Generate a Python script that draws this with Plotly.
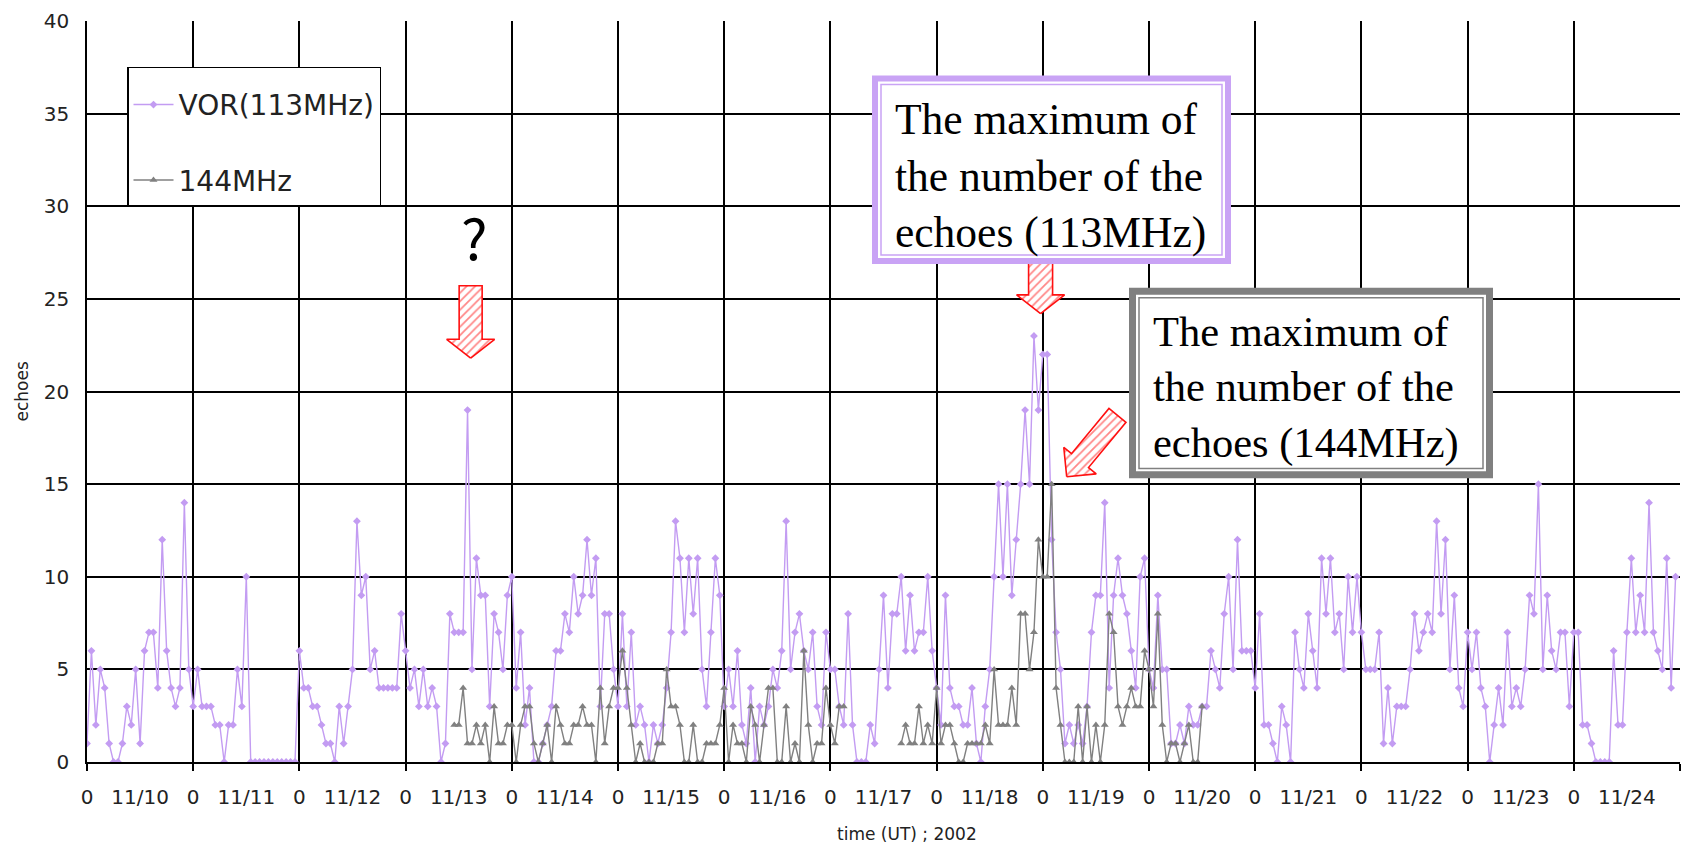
import math
import plotly.graph_objects as go

# ---------------- data ----------------
DAYS = ["11/10", "11/11", "11/12", "11/13", "11/14", "11/15", "11/16", "11/17",
        "11/18", "11/19", "11/20", "11/21", "11/22", "11/23", "11/24"]

# VOR (113 MHz) hourly echo counts, one list per day (hours 0..23 UT)
vor_1110 = [1, 6, 2, 5, 4, 1, 0, 0, 1, 3, 2, 5, 1, 6, 7, 7, 4, 12, 6, 4, 3, 4, 14, 5]
vor_1111 = [3, 5, 3, 3, 3, 2, 2, 0, 2, 2, 5, 3, 10, 0, 0, 0, 0, 0, 0, 0, 0, 0, 0, 0]
vor_1112 = [6, 4, 4, 3, 3, 2, 1, 1, 0, 3, 1, 3, 5, 13, 9, 10, 5, 6, 4, 4, 4, 4, 4, 8]
vor_1113 = [6, 4, 5, 3, 5, 3, 4, 3, 0, 1, 8, 7, 7, 7, 19, 5, 11, 9, 9, 3, 8, 7, 5, 9]
vor_1114 = [10, 4, 7, 2, 4, 0, 0, 1, 2, 3, 6, 6, 8, 7, 10, 8, 9, 12, 9, 11, 3, 8, 8, 5]
vor_1115 = [3, 8, 3, 7, 2, 3, 2, 0, 2, 1, 2, 4, 7, 13, 11, 7, 11, 8, 11, 5, 3, 7, 11, 9]
vor_1116 = [3, 5, 3, 6, 2, 1, 4, 0, 3, 2, 3, 5, 4, 6, 13, 5, 7, 8, 6, 5, 7, 3, 2, 7]
vor_1117 = [5, 5, 3, 2, 8, 2, 0, 0, 0, 2, 1, 5, 9, 4, 8, 8, 10, 6, 9, 6, 7, 7, 10, 6]
vor_1118 = [4, 2, 9, 4, 3, 3, 2, 2, 4, 1, 0, 3, 5, 10, 15, 10, 15, 9, 12, 15, 19, 15, 23, 19]
vor_1119 = [22, 22, 12, 7, 5, 1, 2, 1, 2, 1, 3, 7, 9, 9, 14, 4, 9, 11, 9, 8, 6, 4, 10, 11]
vor_1120 = [5, 4, 9, 5, 5, 1, 1, 2, 1, 3, 2, 2, 3, 3, 6, 5, 4, 8, 10, 5, 12, 6, 6, 6]
vor_1121 = [4, 8, 2, 2, 1, 0, 3, 2, 0, 7, 5, 4, 8, 6, 4, 11, 8, 11, 7, 8, 5, 10, 7, 10]
vor_1122 = [7, 5, 5, 5, 7, 1, 4, 1, 3, 3, 3, 5, 8, 6, 7, 8, 7, 13, 8, 12, 5, 9, 4, 3]
vor_1123 = [7, 5, 7, 4, 3, 0, 2, 4, 2, 7, 3, 4, 3, 5, 9, 8, 15, 5, 9, 6, 5, 7, 7, 3]
vor_1124 = [7, 7, 2, 2, 1, 0, 0, 0, 0, 6, 2, 2, 7, 11, 7, 9, 7, 14, 7, 6, 5, 11, 4, 10]

# 144 MHz hourly echo counts (None = no observation)
N = None
m144_1110 = [N, N, N, N, N, N, N, N, N, N, N, N, N, N, N, N, N, N, N, N, N, N, N, N]
m144_1111 = [N, N, N, N, N, N, N, N, N, N, N, N, N, N, N, N, N, N, N, N, N, N, N, N]
m144_1112 = [N, N, N, N, N, N, N, N, N, N, N, N, N, N, N, N, N, N, N, N, N, N, N, N]
m144_1113 = [N, N, N, N, N, N, N, N, N, N, N, 2, 2, 4, 1, 1, 2, 1, 2, 0, 3, 1, 1, 2]
m144_1114 = [2, 0, 2, 3, 3, 1, 0, 1, 2, 0, 3, 2, 1, 1, 2, 2, 3, 2, 2, 0, 4, 1, 3, 4]
m144_1115 = [4, 6, 4, 2, 0, 1, 0, 0, 0, 1, 1, 5, 3, 3, 2, 0, 0, 2, 0, 0, 1, 1, 1, 2]
m144_1116 = [4, 0, 2, 1, 1, 0, 3, 2, 0, 2, 4, 4, 0, 0, 3, 0, 1, 0, 6, 2, 0, 1, 1, 4]
m144_1117 = [2, 1, 3, 3, N, N, N, N, N, N, N, N, N, N, N, N, 1, 2, 1, 1, 3, 1, 2, 1]
m144_1118 = [4, 1, 2, 2, 1, 0, 0, 1, 1, 1, 1, 2, 1, 5, 2, 2, 2, 4, 2, 8, 8, 5, 7, 12]
m144_1119 = [10, 10, 15, 4, 2, 0, 0, 0, 3, 0, 3, 0, 2, 0, 2, 8, 7, 3, 2, 3, 4, 3, 3, 6]
m144_1120 = [5, 3, 8, 2, 0, 1, 1, 0, 1, 2, 0, 0, 3, N, N, N, N, N, N, N, N, N, N, N]
m144_1121 = [N, N, N, N, N, N, N, N, N, N, N, N, N, N, N, N, N, N, N, N, N, N, N, N]
m144_1122 = [N, N, N, N, N, N, N, N, N, N, N, N, N, N, N, N, N, N, N, N, N, N, N, N]
m144_1123 = [N, N, N, N, N, N, N, N, N, N, N, N, N, N, N, N, N, N, N, N, N, N, N, N]
m144_1124 = [N, N, N, N, N, N, N, N, N, N, N, N, N, N, N, N, N, N, N, N, N, N, N, N]

vor = (vor_1110 + vor_1111 + vor_1112 + vor_1113 + vor_1114 + vor_1115 + vor_1116 +
       vor_1117 + vor_1118 + vor_1119 + vor_1120 + vor_1121 + vor_1122 + vor_1123 + vor_1124)
m144 = (m144_1110 + m144_1111 + m144_1112 + m144_1113 + m144_1114 + m144_1115 + m144_1116 +
        m144_1117 + m144_1118 + m144_1119 + m144_1120 + m144_1121 + m144_1122 + m144_1123 + m144_1124)
hours = list(range(len(vor)))

# tick labels: "0" at midnight, date at noon
tickvals, ticktext = [], []
for i, d in enumerate(DAYS):
    tickvals += [24 * i, 24 * i + 12]
    ticktext += ["0", d]

# ---------------- layout geometry ----------------
W, H = 1689, 850
ML, MR, MT, MB = 87, 9, 15, 88
PW, PH = W - ML - MR, H - MT - MB
XMAX, YMAX = 24 * len(DAYS), 40
PX_H = PW / XMAX   # px per hour
PX_V = PH / YMAX   # px per echo


def pxx(px):
    return (px - ML) / PW


def pxy(py):
    return (H - MB - py) / PH


VOR_COLOR = "#c39cf2"
G_COLOR = "#808080"
TICK_FONT = "DejaVu Sans, Verdana, sans-serif"

fig = go.Figure()


def arrow(tip_h, tip_v, dx, dy, length, shaft, head_w, head_l):
    n = math.hypot(dx, dy)
    ux, uy = dx / n, dy / n
    nx, ny = -uy, ux
    hbx, hby = -ux * head_l, -uy * head_l
    tbx, tby = -ux * length, -uy * length
    pts = [(0, 0),
           (hbx + nx * head_w / 2, hby + ny * head_w / 2),
           (hbx + nx * shaft / 2, hby + ny * shaft / 2),
           (tbx + nx * shaft / 2, tby + ny * shaft / 2),
           (tbx - nx * shaft / 2, tby - ny * shaft / 2),
           (hbx - nx * shaft / 2, hby - ny * shaft / 2),
           (hbx - nx * head_w / 2, hby - ny * head_w / 2),
           (0, 0)]
    xs = [tip_h + sx / PX_H for sx, sy in pts]
    ys = [tip_v - sy / PX_V for sx, sy in pts]
    fig.add_trace(go.Scatter(
        x=xs, y=ys, mode="lines", fill="toself",
        line=dict(color="#ff1010", width=1.6),
        fillcolor="white",
        fillpattern=dict(shape="/", fgcolor="#ff1010", bgcolor="white", size=6, solidity=0.3),
        showlegend=False, hoverinfo="skip"))


# hatched red arrows (pointing at the peaks)
arrow(86.7, 21.8, 0, 1, 73, 23, 48, 19)
arrow(215.5, 24.2, 0, 1, 62, 24, 48, 19)
arrow(221.4, 15.4, -50.5, 61.5, 80, 22, 42, 21)

fig.add_trace(go.Scatter(
    x=hours, y=vor, mode="lines+markers", name="VOR(113MHz)",
    line=dict(color=VOR_COLOR, width=1.4),
    marker=dict(symbol="diamond", size=6, color=VOR_COLOR),
    legendgroup="a"))
fig.add_trace(go.Scatter(
    x=hours, y=m144, mode="lines+markers", name="144MHz",
    line=dict(color=G_COLOR, width=1.4),
    marker=dict(symbol="triangle-up", size=7, color=G_COLOR),
    connectgaps=False, legendgroup="b"))

# ---------------- text boxes ----------------
shapes = []


def box(x0, y0, x1, y1, color, outer_w, inset):
    shapes.append(dict(type="rect", xref="paper", yref="paper", layer="above",
                       x0=pxx(x0 + outer_w / 2), x1=pxx(x1 - outer_w / 2),
                       y0=pxy(y1 - outer_w / 2), y1=pxy(y0 + outer_w / 2),
                       line=dict(color=color, width=outer_w), fillcolor="white"))
    shapes.append(dict(type="rect", xref="paper", yref="paper", layer="above",
                       x0=pxx(x0 + inset), x1=pxx(x1 - inset),
                       y0=pxy(y1 - inset), y1=pxy(y0 + inset),
                       line=dict(color=color, width=1.5), fillcolor="rgba(0,0,0,0)"))


box(872, 70, 1231, 260, "#c9a3f5", 6, 9)
box(1129, 284, 1493, 476, "#808080", 7, 10)

SERIF = "Liberation Serif, Times New Roman, serif"
annotations = [
    dict(xref="paper", yref="paper", x=pxx(893), y=pxy(171), xanchor="left", yanchor="middle",
         align="left", showarrow=False,
         text="The maximum of<br>the number of the<br>echoes (113MHz)",
         font=dict(family=SERIF, size=43.5, color="black")),
    dict(xref="paper", yref="paper", x=pxx(1151), y=pxy(384), xanchor="left", yanchor="middle",
         align="left", showarrow=False,
         text="The maximum of<br>the number of the<br>echoes (144MHz)",
         font=dict(family=SERIF, size=42.5, color="black")),
    dict(xref="paper", yref="paper", x=pxx(474), y=pxy(231), xanchor="center", yanchor="middle",
         showarrow=False, text="?",
         font=dict(family="Noto Sans CJK JP, sans-serif", size=56, color="black")),
    dict(xref="paper", yref="paper", x=pxx(907), y=pxy(835), xanchor="center", yanchor="middle",
         showarrow=False, text="time (UT) ; 2002",
         font=dict(family=TICK_FONT, size=17, color="#222")),
    dict(xref="paper", yref="paper", x=pxx(21), y=0.5, xanchor="center", yanchor="middle",
         showarrow=False, text="echoes", textangle=-90,
         font=dict(family=TICK_FONT, size=17, color="#222")),
]

fig.update_layout(
    width=W, height=H,
    margin=dict(l=ML, r=MR, t=MT, b=MB, pad=0),
    paper_bgcolor="white", plot_bgcolor="white",
    shapes=shapes, annotations=annotations,
    legend=dict(x=pxx(127), y=pxy(61), xanchor="left", yanchor="top",
                bgcolor="white", bordercolor="black", borderwidth=1.5,
                font=dict(family=TICK_FONT, size=28, color="#222"),
                title=dict(text=" ", font=dict(size=9)),
                tracegroupgap=36, itemwidth=40),
    xaxis=dict(range=[0, XMAX], tickmode="array", tickvals=tickvals, ticktext=ticktext,
               ticks="", showgrid=False, zeroline=False,
               showline=True, linecolor="black", linewidth=1.5,
               tickfont=dict(family=TICK_FONT, size=20, color="#222"),
               ticklabelstandoff=16,
               minor=dict(tickmode="linear", tick0=0, dtick=24, showgrid=True,
                          gridcolor="black", gridwidth=1.5,
                          ticks="outside", ticklen=7, tickcolor="black", tickwidth=1.5)),
    yaxis=dict(range=[0, YMAX], tickmode="linear", tick0=0, dtick=5,
               showgrid=True, gridcolor="black", gridwidth=1.5, zeroline=False,
               showline=True, linecolor="black", linewidth=1.5, ticks="",
               tickfont=dict(family=TICK_FONT, size=20, color="#222"),
               ticklabelstandoff=12),
)

fig.write_html("out.html")
